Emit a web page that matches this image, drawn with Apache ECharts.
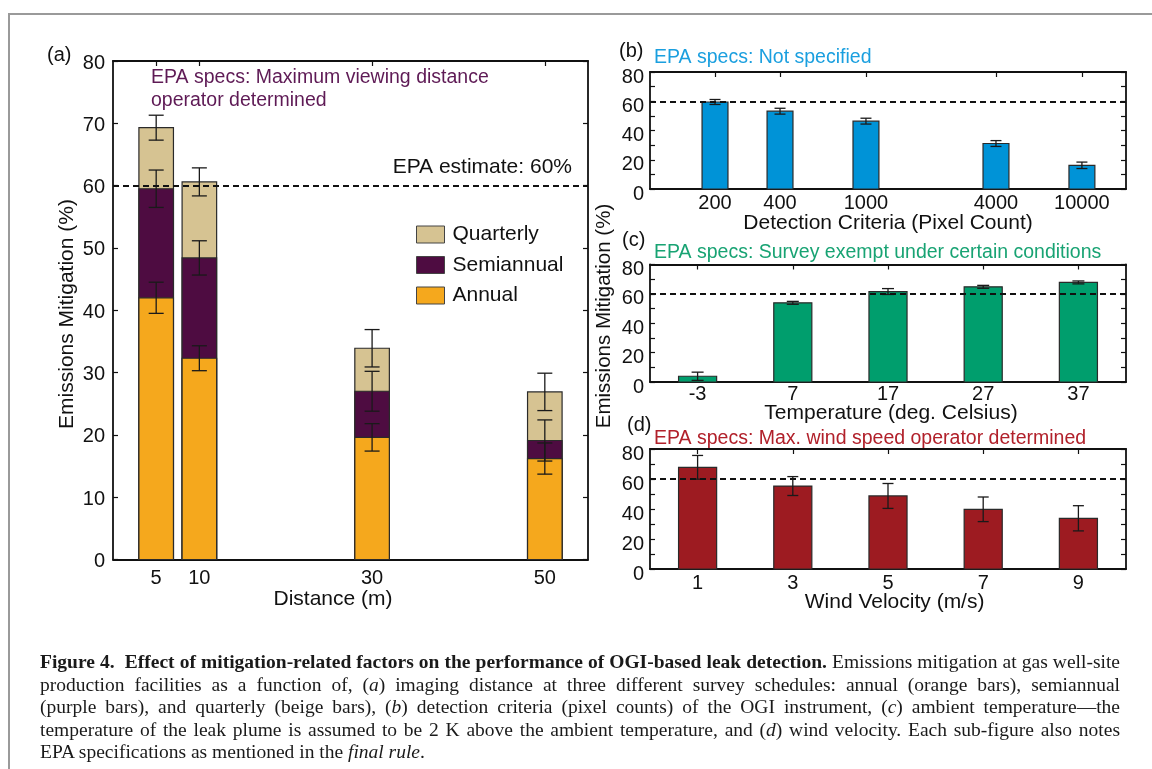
<!DOCTYPE html>
<html>
<head>
<meta charset="utf-8">
<script src="https://cdn.jsdelivr.net/npm/echarts@6/dist/echarts.min.js"></script>
<style>
html,body{margin:0;padding:0;background:#fff;}
#wrap{position:relative;width:1152px;height:769px;overflow:hidden;background:#fff;}
#frame{position:absolute;left:8px;top:13px;width:1160px;height:770px;border-top:2px solid #9a9a9a;border-left:2px solid #9a9a9a;}
#chart{position:absolute;left:0;top:0;width:1152px;height:769px;}
#caption{position:absolute;left:40px;top:651px;width:1080px;font-family:'Liberation Serif',serif;font-size:19.5px;line-height:22.5px;color:#1a1a1a;}
#caption div{white-space:nowrap;}
#caption span{display:inline-block;white-space:nowrap;}
</style>
</head>
<body>
<div id="wrap">
<div id="frame"></div>
<div id="chart"></div>
<div id="caption">
<div class="j"><span><b>Figure 4.&nbsp; Effect of mitigation-related factors on the performance of OGI-based leak detection.</b> Emissions mitigation at gas well-site</span></div>
<div class="j"><span>production facilities as a function of, (<i>a</i>) imaging distance at three different survey schedules: annual (orange bars), semiannual</span></div>
<div class="j"><span>(purple bars), and quarterly (beige bars), (<i>b</i>) detection criteria (pixel counts) of the OGI instrument, (<i>c</i>) ambient temperature—the</span></div>
<div class="j"><span>temperature of the leak plume is assumed to be 2 K above the ambient temperature, and (<i>d</i>) wind velocity. Each sub-figure also notes</span></div>
<div><span>EPA specifications as mentioned in the <i>final rule</i>.</span></div>
</div>
</div>
<script>
// ---------- data ----------
const distances = [5, 10, 30, 50];
const annual = [42.0, 32.3, 19.6, 16.2];
const annualErr = [2.5, 2.0, 2.2, 2.5];
const semiannual = [59.5, 48.4, 27.0, 19.1];
const semiannualErr = [3.0, 2.75, 3.2, 3.3];
const quarterly = [69.3, 60.6, 33.9, 26.9];
const quarterlyErr = [2.0, 2.25, 3.0, 3.0];

const pixelCounts = [200, 400, 1000, 4000, 10000];
const pixelMitigation = [59.5, 53.2, 46.4, 31.1, 16.2];
const pixelErr = [1.7, 2.0, 2.0, 2.0, 2.2];

const temperatures = [-3, 7, 17, 27, 37];
const tempMitigation = [3.9, 53.9, 61.6, 64.8, 67.8];
const tempErr = [2.8, 1.0, 2.0, 1.0, 1.0];

const windSpeeds = [1, 3, 5, 7, 9];
const windMitigation = [67.8, 55.3, 48.7, 39.8, 33.8];
const windErr = [7.9, 6.3, 8.3, 8.2, 8.4];

const epaEstimate = 60;
const legendNames = ['Quarterly', 'Semiannual', 'Annual'];

// ---------- caption justification (word spacing) ----------
(function () {
  const target = 1080;
  document.querySelectorAll('#caption div.j span').forEach(function (sp) {
    const w = sp.getBoundingClientRect().width;
    const spaces = (sp.textContent.match(/[ \u00a0]/g) || []).length;
    if (spaces > 0) sp.style.wordSpacing = ((target - w) / spaces) + 'px';
  });
})();

// ---------- styles ----------
const FF = 'Liberation Sans, Arial, sans-serif';
const COL = {annual:'#F5A81D', semi:'#4E0C41', quart:'#D6C392', blue:'#0093D7', green:'#009E6D', red:'#9D1B21'};
const AL = {show:true, onZero:false, lineStyle:{color:'#111', width:1.8}};
const TS = {color:'#111', width:1.2};

function xAxisPair(gi, min, max, ticks, fmt, margin) {
  return [
    {gridIndex:gi, type:'value', position:'bottom', min:min, max:max, axisLine:AL, splitLine:{show:false},
     axisTick:{inside:true, length:5, lineStyle:TS, customValues:ticks},
     axisLabel:{customValues:ticks, formatter:fmt, fontSize:20, color:'#111', fontFamily:FF, margin:margin}},
    {gridIndex:gi, type:'value', position:'top', min:min, max:max, axisLine:AL, splitLine:{show:false},
     axisTick:{inside:true, length:5, lineStyle:TS, customValues:ticks}, axisLabel:{show:false}}
  ];
}
function yAxisPair(gi, step, drop, margin) {
  const fmt = v => (v % step === 0 ? String(v) : '');
  return [
    {gridIndex:gi, type:'value', position:'left', min:0, max:80, interval:10, axisLine:AL, splitLine:{show:false},
     axisTick:{inside:true, length:5, lineStyle:TS},
     axisLabel:{formatter:fmt, fontSize:20, color:'#111', fontFamily:FF, margin:margin, verticalAlign:'top', lineHeight:2*drop}},
    {gridIndex:gi, type:'value', position:'right', min:0, max:80, interval:10, axisLine:AL, splitLine:{show:false},
     axisTick:{inside:true, length:5, lineStyle:TS}, axisLabel:{show:false}}
  ];
}

function barRenderer(width, color) {
  return function (params, api) {
    const x = api.value(0), v = api.value(1);
    const base = api.coord([x, 0]);
    const top = api.coord([x, v]);
    const w = api.size([width, 0])[0];
    return {type:'rect', shape:{x:base[0]-w/2, y:top[1], width:w, height:base[1]-top[1]},
            style:{fill:color, stroke:'#2a2a2a', lineWidth:1.2}};
  };
}
function errRenderer(cap) {
  return function (params, api) {
    const x = api.value(0), v = api.value(1), e = api.value(2);
    const hi = api.coord([x, v + e]), lo = api.coord([x, v - e]);
    const st = {stroke:'#1a1a1a', lineWidth:1.3};
    return {type:'group', children:[
      {type:'line', shape:{x1:hi[0], y1:hi[1], x2:lo[0], y2:lo[1]}, style:st},
      {type:'line', shape:{x1:hi[0]-cap/2, y1:hi[1], x2:hi[0]+cap/2, y2:hi[1]}, style:st},
      {type:'line', shape:{x1:lo[0]-cap/2, y1:lo[1], x2:lo[0]+cap/2, y2:lo[1]}, style:st}
    ]};
  };
}
const epaLine = {symbol:'none', silent:true, animation:false, label:{show:false},
  lineStyle:{type:[6,4], color:'#111', width:2}, data:[{yAxis:epaEstimate}]};

function barSeries(name, gi, xs, ys, width, color) {
  return {type:'custom', name:name, xAxisIndex:2*gi, yAxisIndex:2*gi, renderItem:barRenderer(width, color),
          encode:{x:0, y:1}, data:xs.map((x, i) => [x, ys[i]]), z:2};
}
function errSeries(name, gi, xs, ys, es, cap, withLine) {
  const s = {type:'custom', name:name, xAxisIndex:2*gi, yAxisIndex:2*gi, renderItem:errRenderer(cap),
          encode:{x:0, y:1}, data:xs.map((x, i) => [x, ys[i], es[i]]), z:3};
  if (withLine) s.markLine = epaLine;
  return s;
}

const logPixels = pixelCounts.map(v => Math.log10(v));

const series = [
  barSeries('Quarterly', 0, distances, quarterly, 4, COL.quart),
  barSeries('Semiannual', 0, distances, semiannual, 4, COL.semi),
  barSeries('Annual', 0, distances, annual, 4, COL.annual),
  errSeries('Quarterly err', 0, distances, quarterly, quarterlyErr, 15, false),
  errSeries('Semiannual err', 0, distances, semiannual, semiannualErr, 15, false),
  errSeries('Annual err', 0, distances, annual, annualErr, 15, true),
  barSeries('Pixel', 1, logPixels, pixelMitigation, 0.12, COL.blue),
  errSeries('Pixel err', 1, logPixels, pixelMitigation, pixelErr, 11, true),
  barSeries('Temperature', 2, temperatures, tempMitigation, 4, COL.green),
  errSeries('Temperature err', 2, temperatures, tempMitigation, tempErr, 12, true),
  barSeries('Wind', 3, windSpeeds, windMitigation, 0.8, COL.red),
  errSeries('Wind err', 3, windSpeeds, windMitigation, windErr, 11, true)
];

function txt(text, x, y, size, opts) {
  return Object.assign({type:'text', x:x, y:y, silent:true, z:10,
    style:Object.assign({text:text, fill:'#111', fontSize:size, fontFamily:FF, align:'left', verticalAlign:'middle'}, (opts && opts.style) || {})},
    (opts && opts.el) || {});
}

const graphics = [
  txt('(a)', 47, 55, 20),
  txt('EPA specs: Maximum viewing distance', 151, 78, 19.5, {style:{fill:'#5E1A55'}}),
  txt('operator determined', 151, 101, 19.5, {style:{fill:'#5E1A55'}}),
  txt('EPA estimate: 60%', 572, 167, 21, {style:{align:'right'}}),
  txt('Distance (m)', 333, 599, 21, {style:{align:'center'}}),
  txt('Emissions Mitigation (%)', 67, 314, 21, {style:{align:'center'}, el:{rotation:Math.PI/2}}),
  txt('(b)', 619, 51, 20),
  txt('EPA specs: Not specified', 654, 58, 19.5, {style:{fill:'#1A9FDF'}}),
  txt('Detection Criteria (Pixel Count)', 888, 223, 21, {style:{align:'center'}}),
  txt('(c)', 622, 240, 20),
  txt('EPA specs: Survey exempt under certain conditions', 654, 253, 19.5, {style:{fill:'#18A373'}}),
  txt('Temperature (deg. Celsius)', 891, 413, 21, {style:{align:'center'}}),
  txt('(d)', 627, 425, 20),
  txt('EPA specs: Max. wind speed operator determined', 654, 439, 19.5, {style:{fill:'#B1202A'}}),
  txt('Wind Velocity (m/s)', 894.6, 602, 21, {style:{align:'center'}}),
  txt('Emissions Mitigation (%)', 604, 316, 20.5, {style:{align:'center'}, el:{rotation:Math.PI/2}})
];

const legendColors = {Quarterly:COL.quart, Semiannual:COL.semi, Annual:COL.annual};

const option = {
  animation:false,
  backgroundColor:'transparent',
  textStyle:{fontFamily:FF},
  grid:[
    {left:113, top:61, width:475, height:498.5},
    {left:650, top:72, width:476, height:117},
    {left:650, top:264.5, width:476, height:117.5},
    {left:650, top:449, width:476, height:120}
  ],
  xAxis:[].concat(
    xAxisPair(0, 0, 55, distances, v => String(v), 9),
    xAxisPair(1, 2, Math.log10(16000), logPixels, v => String(Math.round(Math.pow(10, v))), 4),
    xAxisPair(2, -8, 42, temperatures, v => String(v), 2),
    xAxisPair(3, 0, 10, windSpeeds, v => String(v), 4)
  ),
  yAxis:[].concat(
    yAxisPair(0, 10, 2, 8),
    yAxisPair(1, 20, 5, 6),
    yAxisPair(2, 20, 5, 6),
    yAxisPair(3, 20, 5, 6)
  ),
  legend:{
    orient:'vertical', left:416, top:224, padding:0, itemWidth:28, itemHeight:17, itemGap:9.5,
    selectedMode:false, icon:'rect',
    textStyle:{fontSize:21, color:'#111', fontFamily:FF, padding:[0,0,0,3]},
    data:legendNames.map(n => ({name:n, itemStyle:{color:legendColors[n], borderColor:'#444', borderWidth:1}}))
  },
  graphic:graphics,
  series:series
};

const chart = echarts.init(document.getElementById('chart'), null, {renderer:'canvas'});
chart.setOption(option);
</script>
</body>
</html>
